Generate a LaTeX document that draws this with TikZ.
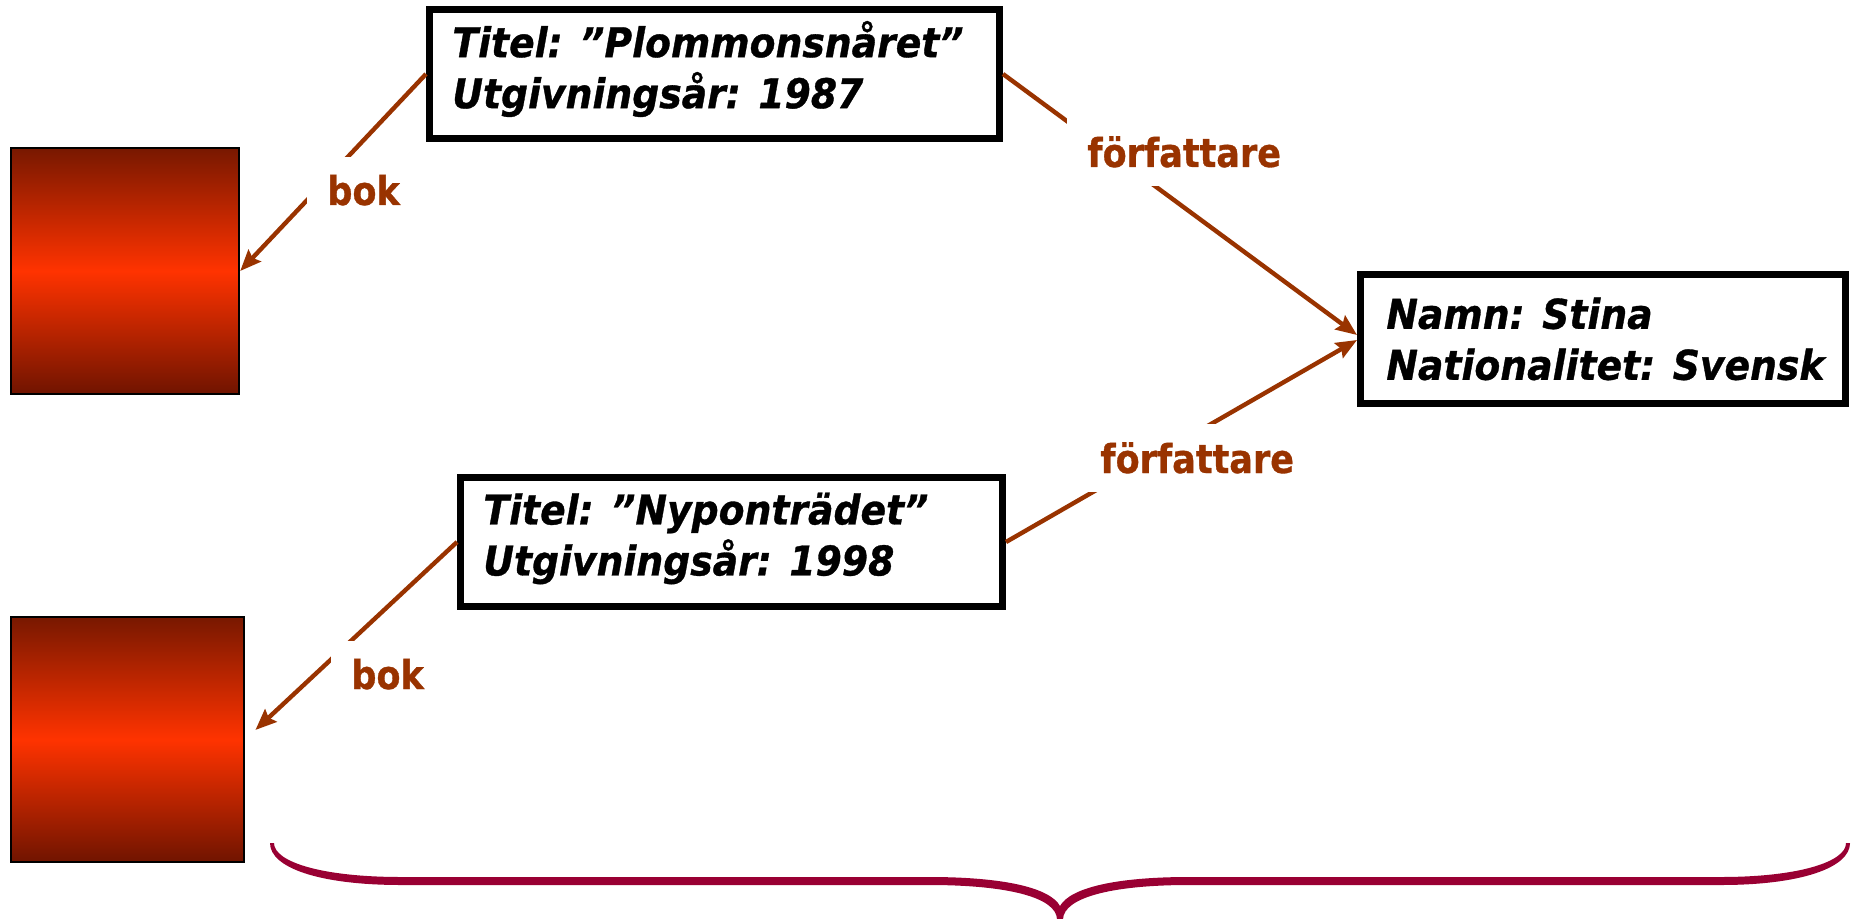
\documentclass[tikz,border=0pt]{standalone}
\usepackage{fontspec}
\newfontfamily\boxfont{DejaVu Sans}[FakeStretch=0.92,FakeBold=0.8]
\newfontfamily\labfont{DejaVu Sans}[FakeStretch=0.88,FakeBold=0.8]
\usetikzlibrary{arrows.meta,calc}
\definecolor{arrowc}{HTML}{993300}
\definecolor{bracec}{HTML}{990033}
\definecolor{darktop}{HTML}{781800}
\definecolor{brightmid}{HTML}{FF3300}
\definecolor{darkbot}{HTML}{701400}
\tikzset{
  infobox/.style={draw=black, line width=3.5pt, rectangle, minimum height=64.5pt, inner sep=0pt},
  boxtext/.style={anchor=west, align=left, inner sep=0pt, text=black,
    font=\boxfont\fontsize{20.5}{25.5}\selectfont\bfseries\itshape},
  redbox/.style={draw=black, line width=1.2pt, rectangle, inner sep=0pt,
    top color=darktop, bottom color=darkbot, middle color=brightmid},
  rel/.style={draw=arrowc, line width=2.2pt, -{Stealth[length=10.5pt,width=8.5pt,inset=1.5pt]}},
  lab/.style={fill=white, text=arrowc, inner xsep=10pt, inner ysep=9pt, anchor=base west,
    font=\labfont\fontsize{19.9}{24}\selectfont\bfseries}
}
\begin{document}
\begin{tikzpicture}[x=0.5pt, y=-0.5pt]
\useasboundingbox (0,0) rectangle (1855,919);

% boxes
\node[infobox, minimum width=285pt] (b1) at (714.5,74) {};
\node[infobox, minimum width=271pt] (b2) at (731.5,542) {};
\node[infobox, minimum width=242.5pt] (b3) at (1603,339) {};

\node[boxtext] (t1) at ($(b1.west)+(26,-5)$) {Titel: ”Plommonsnåret”\\Utgivningsår: 1987};
\node[boxtext] (t2) at ($(b2.west)+(26,-3.5)$) {Titel: ”Nyponträdet”\\Utgivningsår: 1998};
\node[boxtext] (t3) at ($(b3.west)+(29,0)$) {Namn: Stina\\Nationalitet: Svensk};

% red gradient rectangles
\node[redbox, minimum width=114pt, minimum height=123pt] (r1) at (125,271) {};
\node[redbox, minimum width=116.5pt, minimum height=122.5pt] (r2) at (127.5,739.5) {};

% connectors
\draw[rel] (b1.west) -- (r1.east);
\draw[rel] (b1.east) -- ($(b3.west)+(0,-4)$);
\draw[rel] (b2.east) -- ($(b3.west)+(0,1)$);
\draw[rel, shorten >=7pt] (b2.west) -- (r2.east);

% labels
\node[lab] (l1) at (307,205) {bok};
\node[lab] (l2) at (1067,167) {författare};
\node[lab] (l3) at (1080,473) {författare};
\node[lab] (l4) at (331,689) {bok};

% brace
\fill[bracec] (270,843) .. controls (270,868) and (320,885) .. (401,885)
  -- (929,885) .. controls (1010,885) and (1056,898) .. (1057,919)
  -- (1063,919) .. controls (1064,898) and (1110,885) .. (1189,885)
  -- (1721,885) .. controls (1800,885) and (1850,868) .. (1850,843)
  -- (1846,843) .. controls (1846,862) and (1798,877) .. (1721,877)
  -- (1189,877) .. controls (1115,877) and (1070,888) .. (1060,906)
  .. controls (1050,888) and (1005,877) .. (929,877)
  -- (401,877) .. controls (322,877) and (274,862) .. (274,843) -- cycle;
\end{tikzpicture}
\end{document}
